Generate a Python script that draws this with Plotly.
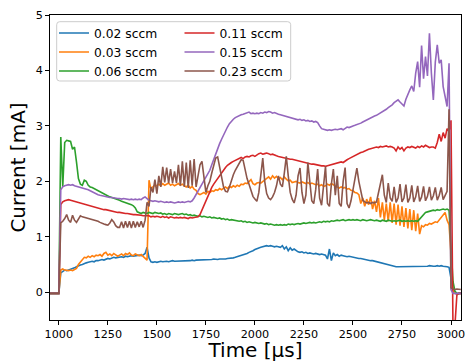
import plotly.graph_objects as go

# ---------------- data ----------------
time_us = list(range(950, 3051, 10))

labels = ["0.02 sccm", "0.03 sccm", "0.06 sccm", "0.11 sccm", "0.15 sccm", "0.23 sccm"]
colors = ["#1f77b4", "#ff7f0e", "#2ca02c", "#d62728", "#9467bd", "#8c564b"]

current_002 = [
    -0.02, -0.02, -0.02, -0.02, -0.02, -0.02,
    0.35, 0.38, 0.40, 0.39, 0.40, 0.41, 0.42, 0.44, 0.46, 0.48,
    0.49, 0.50, 0.52, 0.53, 0.54, 0.55, 0.56, 0.55, 0.57, 0.57,
    0.58, 0.59, 0.58, 0.60, 0.61, 0.60, 0.62, 0.63, 0.62, 0.63,
    0.63, 0.64, 0.63, 0.65, 0.64, 0.65, 0.66, 0.65, 0.66, 0.66,
    0.67, 0.66, 0.67, 0.70, 0.81, 0.62, 0.55, 0.54, 0.55, 0.54,
    0.55, 0.56, 0.55, 0.56, 0.56, 0.55, 0.56, 0.57, 0.56, 0.56,
    0.56, 0.57, 0.56, 0.57, 0.56, 0.57, 0.57, 0.58, 0.57, 0.58,
    0.58, 0.58, 0.59, 0.58, 0.59, 0.59, 0.58, 0.59, 0.60, 0.59,
    0.59, 0.60, 0.60, 0.59, 0.60, 0.61, 0.61, 0.62, 0.62, 0.63,
    0.64, 0.65, 0.66, 0.67, 0.68, 0.70, 0.72, 0.73, 0.75, 0.77,
    0.79, 0.80, 0.81, 0.82, 0.83, 0.84, 0.83, 0.84, 0.83, 0.82,
    0.83, 0.82, 0.81, 0.84, 0.78, 0.82, 0.75, 0.80, 0.76, 0.78,
    0.75, 0.73, 0.72, 0.73, 0.71, 0.72, 0.70, 0.71, 0.70, 0.69,
    0.70, 0.69, 0.68, 0.69, 0.68, 0.67, 0.60, 0.78, 0.57, 0.71,
    0.66, 0.68, 0.65, 0.67, 0.66, 0.65, 0.64, 0.65, 0.64, 0.63,
    0.63, 0.62, 0.61, 0.61, 0.60, 0.59, 0.59, 0.58, 0.57, 0.57,
    0.56, 0.55, 0.55, 0.54, 0.53, 0.52, 0.51, 0.50, 0.49, 0.48,
    0.47, 0.46, 0.46, 0.46, 0.47, 0.46, 0.46, 0.47, 0.46, 0.47,
    0.46, 0.47, 0.47, 0.46, 0.47, 0.46, 0.47, 0.47, 0.48, 0.47,
    0.47, 0.47, 0.48, 0.47, 0.48, 0.47, 0.47, 0.46, 0.45, 0.25,
    0.05, -0.02, -0.03, -0.02, -0.02,
]

current_003 = [
    -0.02, -0.02, -0.02, -0.02, -0.02, -0.02,
    0.40, 0.42, 0.40, 0.39, 0.39, 0.40, 0.39, 0.41, 0.43, 0.50,
    0.55, 0.60, 0.63, 0.62, 0.65, 0.63, 0.66, 0.64, 0.67, 0.66,
    0.68, 0.65, 0.70, 0.72, 0.67, 0.69, 0.66, 0.70, 0.68, 0.65,
    0.67, 0.69, 0.66, 0.70, 0.68, 0.71, 0.67, 0.66, 0.69, 0.67,
    0.66, 0.68, 0.65, 0.62, 0.58, 2.02, 1.85, 1.90, 1.93, 1.92,
    1.95, 1.92, 1.96, 1.93, 1.95, 1.97, 1.93, 1.95, 1.92, 1.94,
    1.96, 1.93, 1.95, 1.92, 1.90, 1.93, 1.88, 1.91, 1.86, 1.84,
    1.78, 1.76, 1.78, 1.80, 1.77, 1.82, 1.80, 1.83, 1.82, 1.85,
    1.84, 1.87, 1.85, 1.88, 1.90, 1.87, 1.91, 1.89, 1.92, 1.90,
    1.93, 1.91, 1.95, 1.94, 1.97, 1.96, 2.00, 2.03, 1.96, 1.94,
    1.97, 1.98, 1.97, 2.00, 2.02, 2.05, 2.08, 2.04, 2.10, 2.06,
    2.09, 2.05, 2.07, 2.03, 2.08, 2.04, 2.01, 2.02, 1.98, 1.99,
    2.00, 1.98, 1.97, 1.99, 1.98, 1.96, 1.98, 1.95, 1.97, 1.96,
    1.94, 1.95, 1.92, 1.94, 1.91, 1.92, 1.95, 1.93, 1.96, 1.94,
    1.91, 1.90, 1.88, 1.90, 1.88, 1.89, 1.86, 1.87, 1.84, 1.83,
    1.80, 1.79, 1.76, 1.60, 1.70, 1.55, 1.68, 1.58, 1.72, 1.50,
    1.65, 1.45, 1.70, 1.35, 1.62, 1.30, 1.60, 1.28, 1.62, 1.25,
    1.60, 1.22, 1.58, 1.20, 1.55, 1.18, 1.52, 1.15, 1.50, 1.12,
    1.48, 1.10, 1.42, 1.05, 1.20, 1.18, 1.22, 1.21, 1.24, 1.23,
    1.25, 1.27, 1.26, 1.30, 1.35, 1.40, 1.44, 1.30, 1.22, 0.70,
    0.05, -0.02, -0.03, -0.02, -0.02,
]

current_006 = [
    -0.02, -0.02, -0.02, -0.02, -0.02, -0.02,
    2.80, 1.90, 2.70, 2.74, 2.73, 2.72, 2.58, 2.62, 2.35, 2.05,
    1.95, 1.93, 2.02, 2.00, 1.93, 1.90, 1.89, 1.87, 1.85, 1.84,
    1.82, 1.80, 1.78, 1.76, 1.74, 1.72, 1.71, 1.70, 1.68, 1.67,
    1.66, 1.64, 1.63, 1.62, 1.61, 1.60, 1.58, 1.56, 1.52, 1.45,
    1.43, 1.42, 1.44, 1.43, 1.42, 1.44, 1.43, 1.42, 1.44, 1.43,
    1.42, 1.43, 1.41, 1.42, 1.40, 1.42, 1.41, 1.40, 1.42, 1.41,
    1.40, 1.41, 1.42, 1.40, 1.41, 1.39, 1.40, 1.38, 1.39, 1.38,
    1.37, 1.38, 1.36, 1.37, 1.36, 1.35, 1.36, 1.34, 1.35, 1.34,
    1.33, 1.34, 1.32, 1.33, 1.31, 1.32, 1.30, 1.31, 1.30, 1.29,
    1.29, 1.28, 1.29, 1.27, 1.28, 1.26, 1.27, 1.26, 1.25, 1.26,
    1.25, 1.24, 1.25, 1.24, 1.23, 1.24, 1.22, 1.23, 1.22, 1.21,
    1.22, 1.21, 1.22, 1.21, 1.22, 1.21, 1.23, 1.22, 1.23, 1.22,
    1.23, 1.24, 1.23, 1.24, 1.25, 1.24, 1.25, 1.26, 1.25, 1.26,
    1.25, 1.26, 1.27, 1.26, 1.28, 1.27, 1.28, 1.27, 1.29, 1.28,
    1.29, 1.30, 1.29, 1.30, 1.31, 1.29, 1.30, 1.31, 1.30, 1.31,
    1.30, 1.31, 1.30, 1.29, 1.31, 1.30, 1.29, 1.30, 1.31, 1.30,
    1.29, 1.30, 1.29, 1.28, 1.30, 1.29, 1.28, 1.30, 1.29, 1.28,
    1.29, 1.28, 1.29, 1.30, 1.28, 1.29, 1.28, 1.29, 1.28, 1.29,
    1.28, 1.29, 1.28, 1.32, 1.37, 1.42, 1.44, 1.45, 1.46, 1.47,
    1.48, 1.47, 1.49, 1.48, 1.49, 1.50, 1.49, 1.50, 1.48, 0.80,
    0.20, 0.02, -0.02, -0.02, -0.02,
]

current_011 = [
    -0.02, -0.02, -0.02, -0.02, -0.02, -0.02,
    1.58, 1.63, 1.65, 1.66, 1.67, 1.66, 1.65, 1.64, 1.63, 1.62,
    1.60, 1.59, 1.58, 1.57, 1.56, 1.55, 1.55, 1.54, 1.53, 1.52,
    1.51, 1.50, 1.49, 1.49, 1.48, 1.47, 1.46, 1.46, 1.45, 1.44,
    1.44, 1.43, 1.43, 1.42, 1.42, 1.41, 1.41, 1.40, 1.40, 1.40,
    1.39, 1.39, 1.38, 1.38, 1.37, 1.38, 1.36, 1.37, 1.36, 1.37,
    1.36, 1.35, 1.37, 1.35, 1.36, 1.34, 1.36, 1.35, 1.34, 1.35,
    1.34, 1.35, 1.34, 1.35, 1.34, 1.33, 1.35, 1.34, 1.35, 1.36,
    1.36, 1.40, 1.48, 1.58, 1.67, 1.75, 1.82, 1.89, 1.95, 2.00,
    2.06, 2.12, 2.17, 2.21, 2.25, 2.29, 2.32, 2.34, 2.36, 2.38,
    2.40, 2.42, 2.43, 2.41, 2.44, 2.45, 2.44, 2.46, 2.47, 2.45,
    2.48, 2.50, 2.51, 2.49, 2.50, 2.51, 2.50, 2.48, 2.49, 2.47,
    2.46, 2.45, 2.44, 2.43, 2.43, 2.42, 2.41, 2.40, 2.40, 2.39,
    2.38, 2.37, 2.36, 2.35, 2.34, 2.33, 2.33, 2.32, 2.31, 2.31,
    2.30, 2.29, 2.29, 2.28, 2.28, 2.27, 2.28, 2.29, 2.30, 2.30,
    2.31, 2.32, 2.33, 2.35, 2.34, 2.37, 2.39, 2.41, 2.43, 2.45,
    2.47, 2.48, 2.50, 2.52, 2.53, 2.55, 2.57, 2.58, 2.59, 2.60,
    2.61, 2.62, 2.61, 2.63, 2.62, 2.63, 2.64, 2.62, 2.63, 2.62,
    2.60, 2.55, 2.62, 2.58, 2.61, 2.55, 2.60, 2.62, 2.61, 2.63,
    2.62, 2.60, 2.63, 2.61, 2.64, 2.62, 2.65, 2.63, 2.61, 2.62,
    2.62, 2.60, 2.70, 2.85, 2.72, 2.88, 2.78, 2.95, 2.90, 3.10,
    -0.60, -0.60, -0.05, -0.02, -0.02,
]

current_015 = [
    -0.02, -0.02, -0.02, -0.02, -0.02, -0.02,
    1.85, 1.90, 1.92, 1.93, 1.94, 1.93, 1.94, 1.92, 1.91, 1.91,
    1.90, 1.89, 1.88, 1.87, 1.85, 1.83, 1.81, 1.79, 1.77, 1.76,
    1.75, 1.74, 1.73, 1.72, 1.72, 1.71, 1.71, 1.70, 1.70, 1.69,
    1.69, 1.68, 1.69, 1.68, 1.68, 1.67, 1.68, 1.67, 1.68, 1.67,
    1.68, 1.67, 1.70, 1.72, 1.69, 1.66, 1.65, 1.64, 1.65, 1.64,
    1.63, 1.64, 1.63, 1.62, 1.63, 1.62, 1.63, 1.62, 1.61, 1.62,
    1.63, 1.62, 1.63, 1.62, 1.63, 1.64, 1.63, 1.65, 1.70, 1.76,
    1.82, 1.88, 1.94, 2.00, 2.06, 2.12, 2.20, 2.30, 2.40, 2.50,
    2.60, 2.68, 2.76, 2.84, 2.92, 2.98, 3.04, 3.09, 3.12, 3.15,
    3.17, 3.19, 3.20, 3.21, 3.22, 3.24, 3.25, 3.22, 3.23, 3.22,
    3.23, 3.22, 3.24, 3.23, 3.25, 3.24, 3.26, 3.25, 3.23, 3.24,
    3.22, 3.21, 3.20, 3.19, 3.18, 3.17, 3.16, 3.15, 3.14, 3.13,
    3.12, 3.11, 3.12, 3.10, 3.11, 3.09, 3.10, 3.08, 3.09, 3.07,
    3.08, 3.06, 3.00, 2.95, 2.94, 2.93, 2.92, 2.93, 2.92, 2.93,
    2.94, 2.93, 2.94, 2.95, 2.93, 2.96, 2.98, 2.97, 2.99, 3.00,
    3.01, 3.02, 3.04, 3.05, 3.07, 3.09, 3.10, 3.12, 3.14, 3.16,
    3.18, 3.19, 3.21, 3.23, 3.25, 3.28, 3.30, 3.33, 3.35, 3.38,
    3.42, 3.44, 3.47, 3.43, 3.40, 3.36, 3.48, 3.58, 3.65, 3.72,
    3.62, 3.95, 4.16, 3.70, 4.45, 3.85, 4.25, 3.90, 4.67, 3.95,
    3.47, 4.15, 4.46, 4.13, 4.19, 3.71, 3.50, 3.35, 4.13, 0.05,
    -0.02, -0.02, -0.02, -0.02, -0.02,
]

current_023 = [
    -0.02, -0.02, -0.02, -0.02, -0.02, -0.02,
    1.25, 1.28, 1.33, 1.40, 1.30, 1.26, 1.39, 1.30, 1.26, 1.33,
    1.38, 1.36, 1.35, 1.34, 1.33, 1.32, 1.31, 1.31, 1.30, 1.28,
    1.26, 1.24, 1.23, 1.22, 1.21, 1.25, 1.31, 1.27, 1.20, 1.17,
    1.17, 1.27, 1.16, 1.28, 1.17, 1.28, 1.16, 1.28, 1.17, 1.27,
    1.18, 1.28, 1.17, 1.30, 1.62, 1.55, 1.90, 1.80, 2.03, 1.78,
    2.10, 1.90, 2.26, 1.98, 2.25, 1.97, 2.22, 1.97, 2.18, 1.97,
    2.30, 1.92, 2.36, 1.90, 2.34, 1.88, 2.38, 1.92, 2.40, 1.90,
    2.10, 2.30, 2.36, 2.05, 1.80, 1.92, 2.00, 2.15, 2.30, 2.42,
    2.44, 2.25, 2.05, 1.90, 1.82, 1.81, 1.90, 2.02, 2.12, 2.20,
    2.26, 2.33, 2.39, 2.38, 2.20, 2.05, 1.95, 1.82, 1.73, 1.68,
    1.64, 1.80, 2.15, 2.42, 2.00, 1.78, 1.70, 1.67, 1.72, 1.80,
    1.92, 2.10, 1.95, 1.90, 2.15, 2.45, 2.10, 1.80, 1.68, 1.61,
    1.75, 2.10, 2.24, 1.80, 1.60, 1.75, 2.34, 2.00, 1.65, 1.60,
    1.85, 2.22, 1.70, 1.57, 1.95, 2.27, 1.60, 1.55, 1.95, 2.22,
    1.75, 2.10, 1.60, 1.55, 2.00, 2.25, 1.60, 1.52, 1.65, 1.85,
    2.05, 2.24, 2.00, 1.82, 1.66, 1.63, 1.61, 1.62, 1.60, 1.62,
    1.61, 1.63, 1.80, 2.00, 2.12, 1.75, 1.62, 1.97, 1.70, 1.64,
    1.90, 1.62, 1.70, 1.95, 1.63, 1.70, 1.94, 1.62, 1.70, 1.93,
    1.63, 1.72, 1.92, 1.64, 1.72, 1.91, 1.65, 1.73, 1.90, 1.66,
    1.74, 1.89, 1.66, 1.75, 1.89, 1.67, 1.76, 1.82, 3.30, 0.08,
    0.06, 0.05, 0.06, 0.05, 0.05,
]

series = [current_002, current_003, current_006, current_011, current_015, current_023]
x_ticks = [1000, 1250, 1500, 1750, 2000, 2250, 2500, 2750, 3000]
y_ticks = [0, 1, 2, 3, 4, 5]

for s in series:
    assert len(s) == len(time_us), len(s)

# ---------------- layout helpers (pixels -> paper) ----------------
W, H = 465, 362
L, R, T, B = 50, 461, 15, 320
FONT = "DejaVu Sans"


def px_x(p):
    return (p - L) / (R - L)


def px_y(p):
    return (B - p) / (B - T)


def rounded_box(x0, y0, x1, y1, r):
    pts = [
        ("M", [(x0 + r, y0)]), ("L", [(x1 - r, y0)]), ("Q", [(x1, y0), (x1, y0 + r)]),
        ("L", [(x1, y1 - r)]), ("Q", [(x1, y1), (x1 - r, y1)]),
        ("L", [(x0 + r, y1)]), ("Q", [(x0, y1), (x0, y1 - r)]),
        ("L", [(x0, y0 + r)]), ("Q", [(x0, y0), (x0 + r, y0)]),
    ]
    out = []
    for cmd, ps in pts:
        out.append(cmd + " ".join(f"{px_x(a):.5f},{px_y(b):.5f}" for a, b in ps))
    return " ".join(out) + " Z"


fig = go.Figure()
for i, (name, ys, col) in enumerate(zip(labels, series, colors)):
    fig.add_trace(go.Scatter(
        x=time_us, y=ys, mode="lines", name=name,
        line=dict(color=col, width=1.6),
        legend="legend" if i < 3 else "legend2",
        legendgroup=name,
    ))

legend_common = dict(
    xanchor="left", yanchor="top", bgcolor="rgba(0,0,0,0)", borderwidth=0,
    font=dict(family=FONT, size=12.3, color="black"), tracegroupgap=0,
    itemwidth=30,
)

fig.update_layout(
    width=W, height=H,
    margin=dict(l=L, r=W - R, t=T, b=H - B, pad=0),
    paper_bgcolor="white", plot_bgcolor="white",
    font=dict(family=FONT, color="black"),
    showlegend=True,
    legend=dict(x=px_x(54), y=px_y(18.5), **legend_common),
    legend2=dict(x=px_x(179.5), y=px_y(18.5), **legend_common),
    shapes=[dict(
        type="path", xref="paper", yref="paper", layer="above",
        path=rounded_box(56.7, 21.7, 290.7, 81.0, 3),
        line=dict(color="#cccccc", width=1), fillcolor="rgba(255,255,255,0.8)",
    )],
    xaxis=dict(
        range=[955, 3051], tickmode="array", tickvals=x_ticks,
        ticktext=[str(v) for v in x_ticks],
        showline=True, linecolor="black", linewidth=1, mirror=True,
        ticks="outside", ticklen=4, tickwidth=1, tickcolor="black",
        showgrid=False, zeroline=False, ticklabeloverflow="allow",
        tickfont=dict(family=FONT, size=11.2, color="black"),
        title=dict(text="Time [µs]", font=dict(family=FONT, size=20, color="black"), standoff=5),
        automargin=False,
    ),
    yaxis=dict(
        range=[-0.5, 5], tickmode="array", tickvals=y_ticks,
        ticktext=[str(v) for v in y_ticks],
        showline=True, linecolor="black", linewidth=1, mirror=True,
        ticks="outside", ticklen=4, tickwidth=1, tickcolor="black",
        showgrid=False, zeroline=False,
        tickfont=dict(family=FONT, size=11.2, color="black"),
        title=dict(text="Current [mA]", font=dict(family=FONT, size=20, color="black"), standoff=4),
        automargin=False,
    ),
)

fig.write_html(
    "out.html",
    config={"displayModeBar": False},
    post_script="document.body.style.margin='0';document.body.style.overflow='hidden';",
)
